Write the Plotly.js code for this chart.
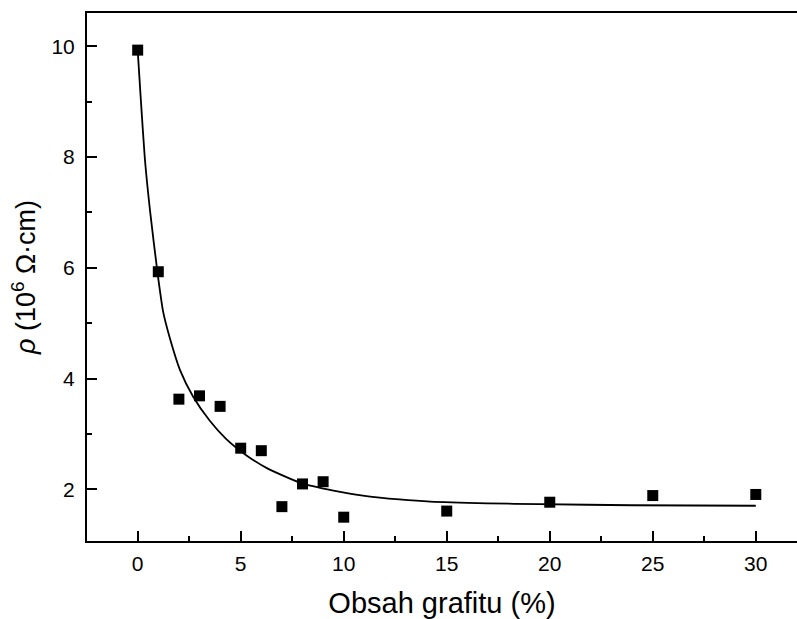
<!DOCTYPE html>
<html>
<head>
<meta charset="utf-8">
<script src="https://cdn.plot.ly/plotly-3.0.1.min.js"></script>
<style>html,body{margin:0;padding:0;background:#fff;}#chart{width:797px;height:619px;}</style>
</head>
<body>
<div id="chart"></div>
<script>
// Measured data (graphite content %, resistivity 10^6 Ohm·cm)
var graphiteContent = [0, 1, 2, 3, 4, 5, 6, 7, 8, 9, 10, 15, 20, 25, 30];
var resistivity = [9.93, 5.93, 3.63, 3.69, 3.50, 2.745, 2.70, 1.69, 2.10, 2.14, 1.50, 1.61, 1.77, 1.89, 1.91];

// Fitted curve
var fitX = [0, 0.15, 0.35, 0.6, 0.96, 1.24, 1.57, 2.05, 2.7, 3.5, 4.3, 5.3, 6.25, 7.9, 9.5, 11.1, 12.7, 14.2, 17, 19.5, 24, 30];
var fitY = [9.93, 9.05, 7.96, 7.03, 5.92, 5.20, 4.72, 4.16, 3.67, 3.24, 2.91, 2.61, 2.39, 2.12, 1.98, 1.88, 1.82, 1.78, 1.75, 1.735, 1.715, 1.706];

var xTickVals = [0, 5, 10, 15, 20, 25, 30];
var yTickVals = [2, 4, 6, 8, 10];

var FONT = 'Arial, "Liberation Sans", sans-serif';

var traces = [
  {
    x: fitX, y: fitY, type: 'scatter', mode: 'lines',
    line: {color: '#000', width: 1.8, shape: 'spline', smoothing: 0.6},
    hoverinfo: 'skip', showlegend: false
  },
  {
    x: graphiteContent, y: resistivity, type: 'scatter', mode: 'markers',
    marker: {symbol: 'square', size: 11, color: '#000', line: {width: 0}},
    showlegend: false
  }
];

var layout = {
  width: 797, height: 619,
  margin: {l: 87, r: 0, t: 13, b: 78},
  paper_bgcolor: '#fff', plot_bgcolor: '#fff',
  font: {family: FONT, color: '#000'},
  showlegend: false,
  xaxis: {
    range: [-2.46, 32.0],
    tickmode: 'array', tickvals: xTickVals,
    ticks: 'inside', ticklen: 10, tickwidth: 2, tickcolor: '#000',
    minor: {ticks: 'inside', ticklen: 5, tickwidth: 2, tickcolor: '#000', dtick: 2.5, tick0: 0, showgrid: false},
    showline: true, linewidth: 2, linecolor: '#000', mirror: true,
    showgrid: false, zeroline: false,
    tickfont: {family: FONT, size: 21, color: '#000'},
    ticklabelstandoff: 3,
    title: {text: 'Obsah grafitu (%)', font: {family: FONT, size: 29, color: '#000'}, standoff: 20},
    automargin: false
  },
  yaxis: {
    range: [1.07, 10.6],
    tickmode: 'array', tickvals: yTickVals,
    ticks: 'inside', ticklen: 10, tickwidth: 2, tickcolor: '#000',
    minor: {ticks: 'inside', ticklen: 5, tickwidth: 2, tickcolor: '#000', dtick: 1, tick0: 0, showgrid: false},
    showline: true, linewidth: 2, linecolor: '#000', mirror: false,
    showgrid: false, zeroline: false,
    tickfont: {family: FONT, size: 21, color: '#000'},
    ticklabelstandoff: 6,
    title: {text: '<i>ρ</i> (10<sup>6</sup> Ω·cm)', font: {family: FONT, size: 27, color: '#000'}, standoff: 8},
    automargin: false
  }
};

Plotly.newPlot('chart', traces, layout, {displayModeBar: false, staticPlot: true});
</script>
</body>
</html>
